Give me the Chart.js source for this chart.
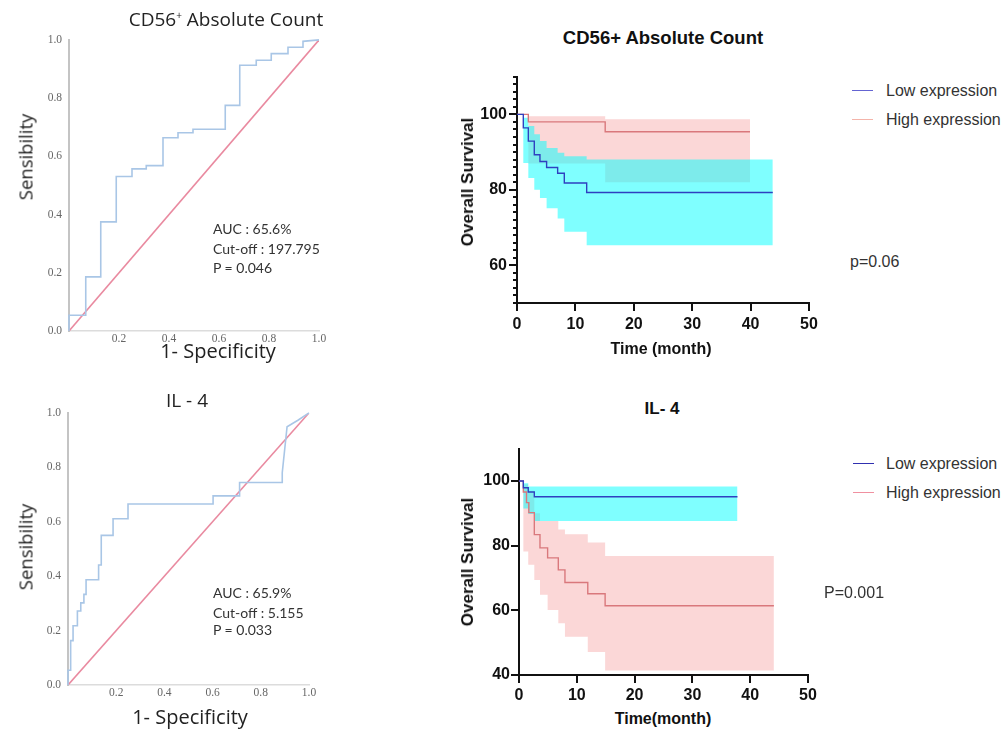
<!DOCTYPE html>
<html>
<head>
<meta charset="utf-8">
<script src="https://cdn.jsdelivr.net/npm/chart.js@4.4.0/dist/chart.umd.min.js"></script>
<style>
    html, body { margin: 0; padding: 0; background: #fff; }
    #fig { position: relative; width: 1002px; height: 737px; overflow: hidden; font-family: 'Liberation Sans', Arial, sans-serif; }
    .box { position: absolute; }
    .txt { position: absolute; white-space: nowrap; transform: translate(-50%, -50%); }
    .lft { position: absolute; white-space: nowrap; transform: translate(0, -50%); }
    .rot { transform: translate(-50%, -50%) rotate(-90deg); }
    .roc-title { font-family: 'Open Sans', sans-serif; font-size: 19px; color: #222; }
    .roc-ylab { font-family: 'Open Sans', sans-serif; font-size: 18.5px; color: #222; }
    .roc-xlab { font-family: 'Open Sans', sans-serif; font-size: 20px; color: #222; }
    .roc-note { font-family: Lato, sans-serif; font-size: 14px; color: #333; }
    .km-title { font-weight: bold; font-size: 17px; color: #111; }
    .km-ylab { font-weight: bold; font-size: 17px; color: #111; }
    .km-xlab { font-weight: bold; font-size: 16px; color: #111; }
    .km-leg { font-size: 16px; color: #333; }
    .leg-line { position: absolute; width: 21px; height: 0; border-top: 1.5px solid; }
</style>
</head>
<body>
<div id="fig">
    <!-- ROC: CD56+ -->
    <div class="box" style="left:20px;top:26px;width:320px;height:330px"><canvas id="rocCd"></canvas></div>
    <div class="txt roc-title" style="left:226px;top:19px">CD56<sup style="font-size:10px">+</sup> Absolute Count</div>
    <div class="txt roc-ylab rot" style="left:25px;top:157px">Sensibility</div>
    <div class="txt roc-xlab" style="left:218px;top:350px">1- Specificity</div>
    <div class="lft roc-note" style="left:213px;top:228px">AUC : 65.6%</div>
    <div class="lft roc-note" style="left:213px;top:248px">Cut-off : 197.795</div>
    <div class="lft roc-note" style="left:213px;top:267px">P = 0.046</div>

    <!-- ROC: IL-4 -->
    <div class="box" style="left:20px;top:399px;width:310px;height:311px"><canvas id="rocIl"></canvas></div>
    <div class="txt roc-title" style="left:187px;top:400px">IL - 4</div>
    <div class="txt roc-ylab rot" style="left:25px;top:547px">Sensibility</div>
    <div class="txt roc-xlab" style="left:190px;top:716px">1- Specificity</div>
    <div class="lft roc-note" style="left:213px;top:592px">AUC : 65.9%</div>
    <div class="lft roc-note" style="left:213px;top:612px">Cut-off : 5.155</div>
    <div class="lft roc-note" style="left:213px;top:629px">P = 0.033</div>

    <!-- KM: CD56+ -->
    <div class="box" style="left:470px;top:65px;width:360px;height:275px"><canvas id="kmCd"></canvas></div>
    <div class="txt km-title" style="left:663px;top:38px;font-size:18.5px">CD56+ Absolute Count</div>
    <div class="txt km-ylab rot" style="left:468px;top:182px">Overall Survival</div>
    <div class="txt km-xlab" style="left:661px;top:349px">Time (month)</div>
    <div class="leg-line" style="left:852px;top:90px;border-color:#6464d2"></div>
    <div class="lft km-leg" style="left:886px;top:91px">Low expression</div>
    <div class="leg-line" style="left:852px;top:119px;border-color:#f4b4aa"></div>
    <div class="lft km-leg" style="left:886px;top:120px">High expression</div>
    <div class="lft km-leg" style="left:850px;top:262px">p=0.06</div>

    <!-- KM: IL-4 -->
    <div class="box" style="left:470px;top:438px;width:360px;height:270px"><canvas id="kmIl"></canvas></div>
    <div class="txt km-title" style="left:662px;top:409px">IL- 4</div>
    <div class="txt km-ylab rot" style="left:468px;top:562px">Overall Survival</div>
    <div class="txt km-xlab" style="left:663px;top:719px">Time(month)</div>
    <div class="leg-line" style="left:853px;top:463px;border-color:#3030b0"></div>
    <div class="lft km-leg" style="left:886px;top:464px">Low expression</div>
    <div class="leg-line" style="left:853px;top:492px;border-color:#f090a0"></div>
    <div class="lft km-leg" style="left:886px;top:493px">High expression</div>
    <div class="lft km-leg" style="left:824px;top:593px">P=0.001</div>
</div>

<script>
// ROC curves: 1 - specificity (x) and sensitivity (y), vertex by vertex
const cd56Fpr = [0, 0, 0.067, 0.067, 0.127, 0.127, 0.189, 0.189, 0.252, 0.252, 0.309, 0.309, 0.376, 0.376, 0.436, 0.436,
    0.496, 0.496, 0.625, 0.625, 0.683, 0.683, 0.749, 0.749, 0.809, 0.809, 0.876, 0.876, 0.936, 0.936, 1.0];
const cd56Tpr = [0, 0.054, 0.054, 0.186, 0.186, 0.375, 0.375, 0.531, 0.531, 0.557, 0.557, 0.568, 0.568, 0.664, 0.664, 0.681,
    0.681, 0.693, 0.693, 0.775, 0.775, 0.913, 0.913, 0.93, 0.93, 0.953, 0.953, 0.975, 0.975, 0.995, 1.0];
const il4Fpr = [0, 0, 0.011, 0.011, 0.021, 0.021, 0.039, 0.039, 0.053, 0.053, 0.066, 0.066, 0.075, 0.075, 0.127, 0.127,
    0.138, 0.138, 0.187, 0.187, 0.249, 0.249, 0.602, 0.602, 0.712, 0.712, 0.889, 0.889, 0.909, 0.954, 1.0];
const il4Tpr = [0, 0.054, 0.054, 0.163, 0.163, 0.218, 0.218, 0.272, 0.272, 0.302, 0.302, 0.333, 0.333, 0.387, 0.387, 0.441,
    0.441, 0.55, 0.55, 0.611, 0.611, 0.665, 0.665, 0.695, 0.695, 0.744, 0.744, 0.78, 0.949, 0.973, 1.0];
const chanceLine = [0, 1];
const rocTicks = [0, 0.2, 0.4, 0.6, 0.8, 1.0];

// Kaplan-Meier, CD56+ absolute count
const cdLowTime = [0, 1.08, 1.94, 2.96, 3.93, 5.07, 6.96, 8.1, 11.93, 43.8];
const cdLowSurv = [100, 96.4, 92.9, 89.3, 87.5, 85.9, 84.4, 81.8, 79.3, 79.3];
const cdLowUpper = [100, 99.1, 96.9, 94.7, 92.9, 91.1, 89.8, 88.9, 88.0, 88.0];
const cdLowLower = [100, 87.1, 83.1, 80.0, 77.8, 75.1, 72.4, 68.9, 65.3, 65.3];
const cdHighTime = [0, 1.94, 15.1, 39.9];
const cdHighSurv = [100, 98.0, 95.4, 95.4];
const cdHighUpper = [100, 99.5, 98.7, 98.7];
const cdHighLower = [100, 87.0, 82.0, 82.0];

// Kaplan-Meier, IL-4
const ilLowTime = [0, 0.75, 1.6, 2.65, 37.8];
const ilLowSurv = [100, 97.9, 96.6, 95.1, 95.1];
const ilLowUpper = [100, 99.3, 98.3, 98.3, 98.3];
const ilLowLower = [100, 91.5, 89.8, 87.6, 87.6];
const ilHighTime = [0, 0.75, 1.3, 1.7, 2.65, 3.63, 4.95, 6.8, 7.95, 11.9, 14.9, 44.1];
const ilHighSurv = [100, 96.6, 93.3, 90.2, 83.4, 79.3, 76.2, 72.5, 68.6, 65.1, 61.4, 61.4];
const ilHighBandTime = [0, 0.75, 1.6, 2.65, 3.63, 4.95, 6.8, 7.95, 11.9, 14.9, 44.1];
const ilHighUpper = [100, 99, 97, 90, 87.6, 87.6, 85, 83.5, 81, 76.8, 76.8];
const ilHighLower = [100, 78.2, 74.1, 69.4, 64.8, 60.1, 56.0, 51.8, 47.1, 41.4, 41.4];

const kmTimeTicks = [0, 10, 20, 30, 40, 50];
const cdSurvTicks = [60, 80, 100];
const ilSurvTicks = [40, 60, 80, 100];

const LOW_LINE = '#2f40c0';
const HIGH_LINE = '#d9787c';
const LOW_BAND = 'rgba(0, 255, 255, 0.5)';
const HIGH_BAND = 'rgba(245, 150, 150, 0.38)';

function points(xs, ys) {
    return xs.map((x, i) => ({ x: x, y: ys[i] }));
}

function setTicks(values) {
    return function(scale) {
        scale.ticks = values.map(v => ({ value: v }));
    };
}

// small ticks between the labelled ones on the survival axis
const minorTicks = {
    id: 'minorTicks',
    afterDraw(chart, args, opts) {
        if (!opts || !opts.step) return;
        const y = chart.scales.y;
        const ctx = chart.ctx;
        ctx.save();
        ctx.strokeStyle = '#111';
        ctx.lineWidth = 2;
        for (let v = y.min; v <= y.max + 0.001; v += opts.step) {
            const py = Math.round(y.getPixelForValue(v));
            ctx.beginPath();
            ctx.moveTo(y.right - opts.length, py);
            ctx.lineTo(y.right, py);
            ctx.stroke();
        }
        ctx.restore();
    }
};

function rocChart(id, fpr, tpr, box) {
    const tickFont = { family: 'Liberation Serif', size: 11.5 };
    return new Chart(document.getElementById(id), {
        type: 'line',
        data: {
            datasets: [
                {
                    data: points(fpr, tpr),
                    borderColor: '#a9c6e6',
                    borderWidth: 1.6,
                    pointRadius: 0,
                    clip: false
                },
                {
                    data: points(chanceLine, chanceLine),
                    borderColor: '#e98aa0',
                    borderWidth: 1.6,
                    pointRadius: 0
                }
            ]
        },
        options: {
            animation: false,
            responsive: true,
            maintainAspectRatio: false,
            events: [],
            layout: { padding: { top: box.top, right: box.right, left: 0, bottom: 0 }, autoPadding: false },
            plugins: { legend: { display: false }, tooltip: { enabled: false } },
            scales: {
                x: {
                    type: 'linear', min: 0, max: 1,
                    afterBuildTicks: setTicks(rocTicks),
                    afterFit: s => { s.height = box.xh; },
                    grid: { display: false, drawTicks: false, tickLength: 0 },
                    border: { display: true, color: '#dcdcdc', width: 1.5 },
                    ticks: {
                        padding: 1, color: '#666', font: tickFont, autoSkip: false, maxRotation: 0,
                        callback: v => v === 0 ? '' : v.toFixed(1)
                    }
                },
                y: {
                    type: 'linear', min: 0, max: 1,
                    afterBuildTicks: setTicks(rocTicks),
                    afterFit: s => { s.width = box.yw; },
                    grid: { display: false, drawTicks: false, tickLength: 0 },
                    border: { display: true, color: '#c4c4c4', width: 2 },
                    ticks: {
                        padding: 7, color: '#666', font: tickFont, autoSkip: false,
                        callback: v => v.toFixed(1)
                    }
                }
            }
        }
    });
}

function kmChart(id, groups, yMin, yTicks, box) {
    const datasets = [];
    // confidence bands first (high underneath, low on top), then the survival curves
    groups.forEach(g => {
        datasets.push({
            data: points(g.bandTime, g.upper), stepped: 'before', fill: '+1',
            backgroundColor: g.band, borderColor: 'transparent', borderWidth: 0, pointRadius: 0, order: g.bandOrder
        });
        datasets.push({
            data: points(g.bandTime, g.lower), stepped: 'before', fill: false,
            borderColor: 'transparent', borderWidth: 0, pointRadius: 0, order: g.bandOrder
        });
    });
    groups.forEach(g => {
        datasets.push({
            data: points(g.time, g.surv), stepped: 'before', fill: false,
            borderColor: g.line, borderWidth: 1.4, pointRadius: 0, order: g.lineOrder
        });
    });

    const tickFont = { family: 'Liberation Sans', size: 16, weight: 'bold' };
    return new Chart(document.getElementById(id), {
        type: 'line',
        data: { datasets: datasets },
        plugins: [minorTicks],
        options: {
            animation: false,
            responsive: true,
            maintainAspectRatio: false,
            events: [],
            layout: { padding: { top: box.top, right: box.right, left: 0, bottom: 0 }, autoPadding: false },
            plugins: {
                legend: { display: false },
                tooltip: { enabled: false },
                minorTicks: box.minor
            },
            scales: {
                x: {
                    type: 'linear', min: 0, max: 50,
                    afterBuildTicks: setTicks(kmTimeTicks),
                    afterFit: s => { s.height = box.xh; },
                    grid: { drawOnChartArea: false, color: '#111', lineWidth: 2, tickLength: box.tick },
                    border: { color: '#111', width: 2 },
                    ticks: { padding: box.xpad, color: '#111', font: tickFont, autoSkip: false, maxRotation: 0 }
                },
                y: {
                    type: 'linear', min: yMin, max: 110,
                    afterBuildTicks: setTicks(yTicks),
                    afterFit: s => { s.width = box.yw; },
                    grid: { drawOnChartArea: false, color: '#111', lineWidth: 2, tickLength: box.tick },
                    border: { color: '#111', width: 2 },
                    ticks: { padding: box.ypad, color: '#111', font: tickFont, autoSkip: false }
                }
            }
        }
    });
}

rocChart('rocCd', cd56Fpr, cd56Tpr, { top: 10, right: 21, xh: 25, yw: 49 });
rocChart('rocIl', il4Fpr, il4Tpr, { top: 10, right: 21, xh: 25, yw: 48 });

kmChart('kmCd', [
    { bandTime: cdHighTime, upper: cdHighUpper, lower: cdHighLower, band: HIGH_BAND, bandOrder: 4,
      time: cdHighTime, surv: cdHighSurv, line: HIGH_LINE, lineOrder: 1 },
    { bandTime: cdLowTime, upper: cdLowUpper, lower: cdLowLower, band: LOW_BAND, bandOrder: 3,
      time: cdLowTime, surv: cdLowSurv, line: LOW_LINE, lineOrder: 0 }
], 50, cdSurvTicks, { top: 10, right: 21, xh: 37, yw: 47, tick: 8, xpad: 4, ypad: 2, minor: { step: 2, length: 4 } });

kmChart('kmIl', [
    { bandTime: ilHighBandTime, upper: ilHighUpper, lower: ilHighLower, band: HIGH_BAND, bandOrder: 4,
      time: ilHighTime, surv: ilHighSurv, line: HIGH_LINE, lineOrder: 1 },
    { bandTime: ilLowTime, upper: ilLowUpper, lower: ilLowLower, band: LOW_BAND, bandOrder: 3,
      time: ilLowTime, surv: ilLowSurv, line: LOW_LINE, lineOrder: 0 }
], 40, ilSurvTicks, { top: 10, right: 22, xh: 33, yw: 49, tick: 8, xpad: 3, ypad: 1, minor: false });
</script>
</body>
</html>
